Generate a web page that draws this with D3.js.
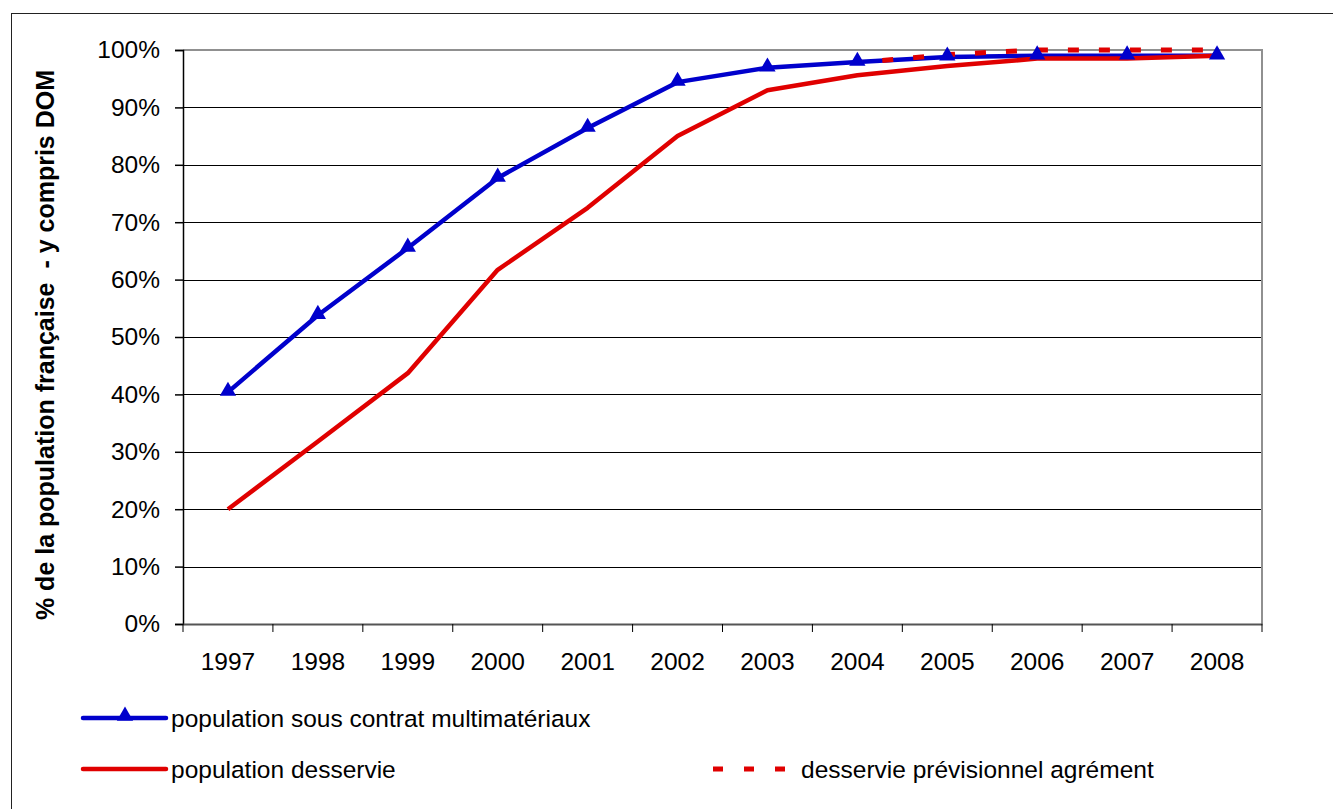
<!DOCTYPE html>
<html>
<head>
<meta charset="utf-8">
<script src="https://cdn.jsdelivr.net/npm/d3@7"></script>
<style>
  html, body { margin: 0; padding: 0; background: #fff; }
  svg { display: block; font-family: "Liberation Sans", Arial, sans-serif; }
</style>
</head>
<body>
<svg id="chart" width="1333" height="809"></svg>
<script>
const years = ["1997","1998","1999","2000","2001","2002","2003","2004","2005","2006","2007","2008"];
const contrat = [0.404, 0.538, 0.655, 0.777, 0.864, 0.944, 0.969, 0.979, 0.988, 0.990, 0.990, 0.990];
const desservie = [0.200, 0.318, 0.437, 0.617, 0.725, 0.850, 0.930, 0.956, 0.972, 0.985, 0.985, 0.990];
const previsionYears = ["2004","2005","2006","2007","2008"];
const prevision = [0.978, 0.992, 1.000, 1.000, 1.000];
const yTicks = [0, 0.1, 0.2, 0.3, 0.4, 0.5, 0.6, 0.7, 0.8, 0.9, 1.0];
const yTitle = "% de la population française  - y compris DOM";
const legendLabels = ["population sous contrat multimatériaux", "population desservie", "desservie prévisionnel agrément"];

const blue = "#0000CC", red = "#E00000";
const FS = 24.5;
const svg = d3.select("#chart");
const L = 183, R = 1262, T = 50, B = 624;

// outer chart border
svg.append("rect").attr("x", 11.5).attr("y", 13.5).attr("width", 1340).attr("height", 820)
  .attr("fill", "none").attr("stroke", "#222").attr("stroke-width", 1);

const x = d3.scaleBand().domain(years).range([L, R]);
const y = d3.scaleLinear().domain([0, 1]).range([B, T]);
const cx = d => x(d) + x.bandwidth() / 2;

// gridlines
svg.append("g").selectAll("line").data(yTicks.filter(v => v > 0 && v < 1)).join("line")
  .attr("x1", L).attr("x2", R).attr("y1", d => Math.round(y(d)) + 0.5).attr("y2", d => Math.round(y(d)) + 0.5)
  .attr("stroke", "#000").attr("stroke-width", 1);

// plot border top/right (gray)
svg.append("path").attr("d", `M${L},${T}H${R}V${B}`).attr("fill", "none")
  .attr("stroke", "#909090").attr("stroke-width", 2);

// y axis
const yAxis = svg.append("g").attr("transform", `translate(${L},0)`)
  .call(d3.axisLeft(y).tickValues(yTicks).tickFormat(d3.format(".0%")).tickSize(8).tickPadding(15));
yAxis.selectAll("text").attr("font-size", FS).attr("fill", "#000").attr("font-family", "Liberation Sans, Arial, sans-serif");
yAxis.selectAll("line, path").attr("stroke", "#000").attr("stroke-width", 1.5);

// x axis
const xAxis = svg.append("g").attr("transform", `translate(0,${B})`)
  .call(d3.axisBottom(x).tickSize(0).tickPadding(29));
xAxis.selectAll("text").attr("font-size", FS).attr("fill", "#000").attr("font-family", "Liberation Sans, Arial, sans-serif");
xAxis.select("path").attr("stroke", "#555").attr("stroke-width", 2);
// ticks at band boundaries
const bounds = years.map(d => x(d)).concat([R]);
xAxis.append("g").selectAll("line").data(bounds).join("line")
  .attr("x1", d => d).attr("x2", d => d).attr("y1", 0).attr("y2", 8)
  .attr("stroke", "#000").attr("stroke-width", 1);

// y title
svg.append("text").attr("transform", `translate(54,345) rotate(-90)`)
  .attr("text-anchor", "middle").attr("font-size", 25).attr("font-weight", "bold")
  .attr("fill", "#000").style("white-space", "pre").text(yTitle);

const line = d3.line();

// blue line
svg.append("path").datum(years.map((d, i) => [cx(d), y(contrat[i])]))
  .attr("d", line).attr("fill", "none").attr("stroke", blue).attr("stroke-width", 4.5)
  .attr("stroke-linejoin", "round");

// red solid
svg.append("path").datum(years.map((d, i) => [cx(d), y(desservie[i])]))
  .attr("d", line).attr("fill", "none").attr("stroke", red).attr("stroke-width", 4.5)
  .attr("stroke-linejoin", "round");

// red dashed
svg.append("path").datum(previsionYears.map((d, i) => [cx(d), y(prevision[i])]))
  .attr("d", line).attr("fill", "none").attr("stroke", red).attr("stroke-width", 5)
  .attr("stroke-dasharray", "11,20").attr("stroke-dashoffset", -25);

// triangles
const tri = d3.symbol().type(d3.symbolTriangle).size(115);
svg.append("g").selectAll("path").data(years).join("path")
  .attr("transform", (d, i) => `translate(${cx(d)},${y(contrat[i]) - 1})`)
  .attr("d", tri).attr("fill", blue);

// legend
const lg = svg.append("g");
lg.append("line").attr("x1", 83).attr("x2", 166).attr("y1", 718).attr("y2", 718)
  .attr("stroke", blue).attr("stroke-width", 4.5).attr("stroke-linecap", "round");
lg.append("path").attr("transform", "translate(125,716)").attr("d", tri).attr("fill", blue);
lg.append("text").attr("x", 171).attr("y", 727).attr("font-size", FS).attr("fill", "#000").text(legendLabels[0]);

lg.append("line").attr("x1", 83).attr("x2", 166).attr("y1", 769).attr("y2", 769)
  .attr("stroke", red).attr("stroke-width", 4.5).attr("stroke-linecap", "round");
lg.append("text").attr("x", 171).attr("y", 778).attr("font-size", FS).attr("fill", "#000").text(legendLabels[1]);

lg.append("line").attr("x1", 713).attr("x2", 786).attr("y1", 769).attr("y2", 769)
  .attr("stroke", red).attr("stroke-width", 5).attr("stroke-dasharray", "10,21");
lg.append("text").attr("x", 801).attr("y", 778).attr("font-size", FS).attr("fill", "#000").text(legendLabels[2]);
</script>
</body>
</html>
